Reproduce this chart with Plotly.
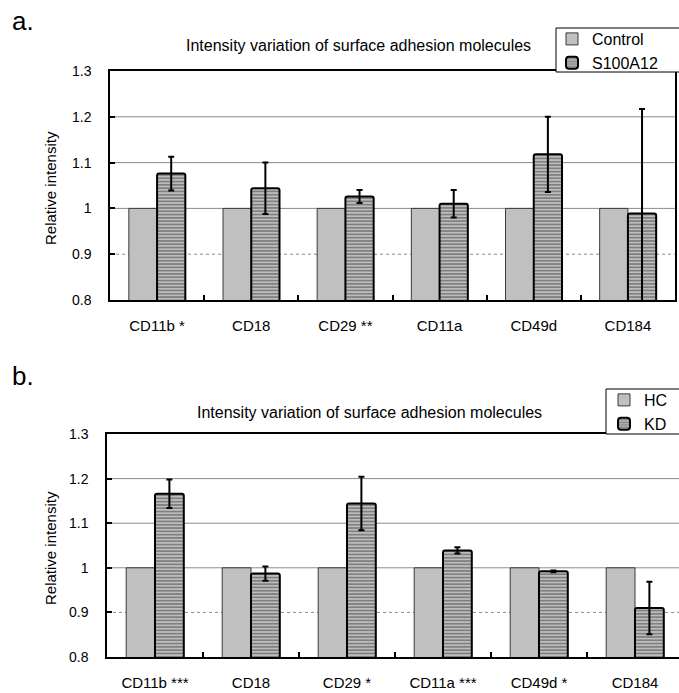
import plotly.graph_objects as go

# ---------------- data ----------------
categories_a = ["CD11b *", "CD18", "CD29 **", "CD11a", "CD49d", "CD184"]
control_a = [1.0, 1.0, 1.0, 1.0, 1.0, 1.0]
s100a12 = [1.076, 1.044, 1.026, 1.010, 1.118, 0.989]
s100a12_err = [0.037, 0.056, 0.014, 0.030, 0.082, 0.228]

categories_b = ["CD11b ***", "CD18", "CD29 *", "CD11a ***", "CD49d *", "CD184"]
hc_b = [1.0, 1.0, 1.0, 1.0, 1.0, 1.0]
kd_b = [1.166, 0.987, 1.144, 1.039, 0.992, 0.910]
kd_err = [0.032, 0.016, 0.060, 0.007, 0.002, 0.059]

y_tickvals = [0.8, 0.9, 1.0, 1.1, 1.2, 1.3]
y_ticktext = ["0.8", "0.9", "1", "1.1", "1.2", "1.3"]
grid_vals = [0.9, 1.0, 1.1, 1.2]

title_text = "Intensity variation of surface adhesion molecules"

# ---------------- layout helpers ----------------
W, H = 679, 693
FONT = "Arial, Liberation Sans, sans-serif"


def fx(px):
    return px / W


def fy(py):
    return 1 - py / H


light = "#c0c0c0"
pattern = dict(shape="-", fgcolor="#3a3a3a", bgcolor="#c4c4c4", size=3.3, solidity=0.55)

fig = go.Figure()

# panel a
fig.add_trace(go.Bar(x=categories_a, y=control_a, name="Control", xaxis="x", yaxis="y",
                     marker=dict(color=light, line=dict(color="#3a3a3a", width=1)),
                     legend="legend"))
fig.add_trace(go.Bar(x=categories_a, y=s100a12, name="S100A12", xaxis="x", yaxis="y",
                     marker=dict(color="#c4c4c4", pattern=pattern, line=dict(color="black", width=2),
                                 cornerradius=2),
                     error_y=dict(type="data", array=s100a12_err, color="black", thickness=2, width=3),
                     legend="legend"))
# panel b
fig.add_trace(go.Bar(x=categories_b, y=hc_b, name="HC", xaxis="x2", yaxis="y2",
                     marker=dict(color=light, line=dict(color="#3a3a3a", width=1)),
                     legend="legend2"))
fig.add_trace(go.Bar(x=categories_b, y=kd_b, name="KD", xaxis="x2", yaxis="y2",
                     marker=dict(color="#c4c4c4", pattern=pattern, line=dict(color="black", width=2),
                                 cornerradius=2),
                     error_y=dict(type="data", array=kd_err, color="black", thickness=2, width=3),
                     legend="legend2"))

# gridlines from tick values
shapes = []
for yref, xref in (("y", "x domain"), ("y2", "x2 domain")):
    for v in grid_vals:
        shapes.append(dict(type="line", xref=xref, yref=yref, x0=0, x1=1, y0=v, y1=v,
                           line=dict(color="#8a8a8a", width=1, dash="dot" if v == 0.9 else "solid"),
                           layer="below"))

# legend frames (open to the right edge, as in the original)
for (l, t, b) in ((556, 28, 72), (606, 389, 434)):
    shapes.append(dict(type="rect", xref="paper", yref="paper", x0=fx(l), x1=fx(l + 200),
                       y0=fy(b), y1=fy(t), line=dict(color="black", width=1),
                       fillcolor="white", layer="above"))

common_y = dict(range=[0.8, 1.3], tickvals=y_tickvals, ticktext=y_ticktext, showgrid=False,
                zeroline=False, showline=True, linecolor="black", linewidth=1.5,
                ticks="inside", ticklen=5, tickwidth=1.5, tickcolor="black",
                tickfont=dict(family=FONT, size=14, color="black"), ticklabelstandoff=14,
                fixedrange=True)
common_x = dict(type="category", showgrid=False, zeroline=False, showline=True, linecolor="black",
                linewidth=1.5, mirror=True, ticks="inside", tickson="boundaries", ticklen=5,
                tickwidth=1.5, tickcolor="black",
                tickfont=dict(family=FONT, size=15, color="black"), ticklabelstandoff=11,
                fixedrange=True)

legend_common = dict(bgcolor="rgba(0,0,0,0)", borderwidth=0,
                     font=dict(family=FONT, size=16, color="black"),
                     orientation="v", xanchor="left", yanchor="top",
                     itemclick=False, itemdoubleclick=False, tracegroupgap=0)

annotations = [
    dict(text="a.", x=fx(10), y=fy(21), xref="paper", yref="paper", xanchor="left", yanchor="middle",
         showarrow=False, font=dict(family=FONT, size=26, color="black")),
    dict(text="b.", x=fx(10), y=fy(376), xref="paper", yref="paper", xanchor="left", yanchor="middle",
         showarrow=False, font=dict(family=FONT, size=26, color="black")),
    dict(text=title_text, x=fx(358), y=fy(45), xref="paper", yref="paper", xanchor="center",
         yanchor="middle", showarrow=False, font=dict(family=FONT, size=16, color="black")),
    dict(text=title_text, x=fx(370), y=fy(412), xref="paper", yref="paper", xanchor="center",
         yanchor="middle", showarrow=False, font=dict(family=FONT, size=16, color="black")),
    dict(text="Relative intensity", x=fx(50), y=fy(188), xref="paper", yref="paper", textangle=-90,
         xanchor="center", yanchor="middle", showarrow=False, font=dict(family=FONT, size=15, color="black")),
    dict(text="Relative intensity", x=fx(50), y=fy(548), xref="paper", yref="paper", textangle=-90,
         xanchor="center", yanchor="middle", showarrow=False, font=dict(family=FONT, size=15, color="black")),
]

fig.update_layout(
    width=W, height=H, autosize=False,
    margin=dict(l=0, r=0, t=0, b=0, pad=0, autoexpand=False),
    paper_bgcolor="white", plot_bgcolor="white",
    barmode="group", bargap=0.4, bargroupgap=0,
    showlegend=True,
    xaxis=dict(domain=[fx(110), fx(675)], anchor="y", **common_x),
    yaxis=dict(domain=[fy(300), fy(71)], anchor="x", mirror=True, **common_y),
    xaxis2=dict(domain=[fx(107), 1.0], anchor="y2", range=[-0.5, -0.5 + 572 / 96], **common_x),
    yaxis2=dict(domain=[fy(657), fy(434)], anchor="x2", mirror=False, **common_y),
    legend=dict(x=fx(552), y=fy(22), **legend_common),
    legend2=dict(x=fx(604), y=fy(383), **legend_common),
    shapes=shapes,
    annotations=annotations,
    font=dict(family=FONT, color="black"),
)

fig.write_html("out.html", config={"displayModeBar": False},
               post_script="document.body.style.margin='0';document.body.style.padding='0';")
